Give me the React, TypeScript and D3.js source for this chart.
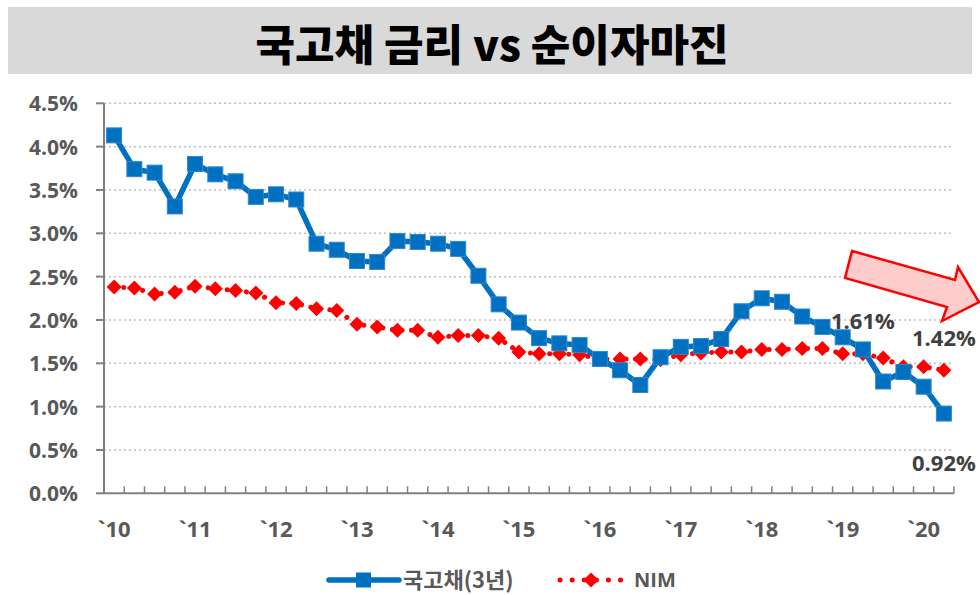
import React from "react";
import * as d3 from "d3";

const quarters: string[] = [];
for (let y = 2010; y <= 2020; y++) for (let q = 1; q <= 4; q++) quarters.push(`${y}Q${q}`);
const categories = quarters.slice(0, 42);

const yearLabels = ["`10", "`11", "`12", "`13", "`14", "`15", "`16", "`17", "`18", "`19", "`20"];

const bond3y = [4.13, 3.74, 3.70, 3.31, 3.80, 3.68, 3.60, 3.42, 3.45, 3.39, 2.88, 2.81, 2.68, 2.67, 2.91, 2.90, 2.88, 2.82, 2.51, 2.18, 1.97, 1.79, 1.73, 1.71, 1.55, 1.42, 1.25, 1.57, 1.69, 1.70, 1.78, 2.10, 2.25, 2.21, 2.04, 1.92, 1.80, 1.66, 1.29, 1.40, 1.23, 0.92];

const nim = [2.38, 2.37, 2.30, 2.32, 2.39, 2.36, 2.34, 2.31, 2.20, 2.19, 2.13, 2.11, 1.95, 1.92, 1.88, 1.88, 1.80, 1.82, 1.82, 1.79, 1.63, 1.61, 1.61, 1.60, 1.55, 1.55, 1.55, 1.54, 1.60, 1.62, 1.63, 1.63, 1.66, 1.66, 1.67, 1.67, 1.61, 1.61, 1.56, 1.46, 1.46, 1.42];

const yTicks = [0, 0.5, 1, 1.5, 2, 2.5, 3, 3.5, 4, 4.5];

const title = "국고채 금리 vs 순이자마진";
const seriesNames = ["국고채(3년)", "NIM"];

const BLUE = "#0070C0";
const RED = "#FF0000";
const FONT = "'Open Sans', 'Noto Sans CJK KR', sans-serif";

export default function App() {
  const W = 980, H = 595;
  const left = 104, right = 954, top = 103.3, bottom = 493.3;
  const x = d3.scaleBand<string>().domain(categories).range([left, right]);
  const y = d3.scaleLinear().domain([0, 4.5]).range([bottom, top]);
  const cx = (i: number) => (x(categories[i]) as number) + x.bandwidth() / 2;

  const line = d3.line<number>().x((_, i) => cx(i)).y((d) => y(d));

  const boundaries = d3.range(categories.length + 1).map((i) => left + i * x.bandwidth());

  const diamond = (px: number, py: number, r: number) =>
    `M${px},${py - r}L${px + r},${py}L${px},${py + r}L${px - r},${py}Z`;

  const nimLabelIdx = 37;
  const lastIdx = categories.length - 1;
  const legY = 578;

  return (
    <svg width={W} height={H} style={{ position: "absolute", left: 0, top: 0, background: "#fff" }} fontFamily={FONT}>
      <rect x={8} y={7} width={964} height={67} fill="#D9D9D9" />
      <text x={492} y={42} textAnchor="middle" dominantBaseline="central" fontSize={43} fontWeight={900} fill="#000" fontFamily="'Noto Sans CJK KR', sans-serif">
        {title}
      </text>

      {/* gridlines */}
      {yTicks.filter((t) => t > 0).map((t) => (
        <line key={t} x1={left} x2={right} y1={y(t)} y2={y(t)} stroke="#BFBFBF" strokeWidth={1.5} strokeDasharray="2 3" />
      ))}

      {/* y axis */}
      <line x1={left} x2={left} y1={top} y2={bottom} stroke="#808080" strokeWidth={2} />
      {yTicks.map((t) => (
        <g key={t}>
          <line x1={96} x2={left} y1={y(t)} y2={y(t)} stroke="#808080" strokeWidth={2} />
          <text x={78} y={y(t)} textAnchor="end" dominantBaseline="central" fontSize={21} fontWeight={700} fill="#595959">
            {t.toFixed(1)}%
          </text>
        </g>
      ))}

      {/* x axis */}
      <line x1={left} x2={right} y1={bottom} y2={bottom} stroke="#808080" strokeWidth={2} />
      {boundaries.map((b, i) => (
        <line key={i} x1={b} x2={b} y1={bottom - 7} y2={bottom} stroke="#808080" strokeWidth={1.5} />
      ))}
      {yearLabels.map((lab, k) => (
        <text key={lab} x={cx(k * 4)} y={528} textAnchor="middle" dominantBaseline="central" fontSize={22} fontWeight={700} fill="#595959">
          {lab}
        </text>
      ))}

      {/* NIM */}
      <path d={line(nim) as string} fill="none" stroke={RED} strokeWidth={5} strokeLinecap="round" strokeDasharray="0.1 9.5" />
      {nim.map((v, i) => (
        <path key={i} d={diamond(cx(i), y(v), 7.5)} fill={RED} />
      ))}

      {/* bond */}
      <path d={line(bond3y) as string} fill="none" stroke={BLUE} strokeWidth={5.5} strokeLinejoin="round" />
      {bond3y.map((v, i) => (
        <rect key={i} x={cx(i) - 7.5} y={y(v) - 7.5} width={15} height={15} fill={BLUE} stroke="#2F86CF" strokeWidth={1} />
      ))}

      {/* arrow annotation */}
      <path d="M852,251L955,280L958,267L979,302L942,321L947,307L845,278Z" fill="#FFCCCC" stroke={RED} strokeWidth={2.5} strokeLinejoin="miter" />

      {/* data labels */}
      <text x={cx(nimLabelIdx)} y={320} textAnchor="middle" dominantBaseline="central" fontSize={22} fontWeight={700} fill="#404040">
        {nim[nimLabelIdx].toFixed(2)}%
      </text>
      <text x={cx(lastIdx)} y={337} textAnchor="middle" dominantBaseline="central" fontSize={22} fontWeight={700} fill="#404040">
        {nim[lastIdx].toFixed(2)}%
      </text>
      <text x={cx(lastIdx)} y={462} textAnchor="middle" dominantBaseline="central" fontSize={22} fontWeight={700} fill="#404040">
        {bond3y[lastIdx].toFixed(2)}%
      </text>

      {/* legend */}
      <line x1={329} x2={399} y1={legY + 2} y2={legY + 2} stroke={BLUE} strokeWidth={5.5} strokeLinecap="round" />
      <rect x={356} y={legY + 2 - 7.5} width={15} height={15} fill={BLUE} />
      <text x={403} y={legY} dominantBaseline="central" fontSize={22} fontWeight={700} fill="#595959" fontFamily="'Noto Sans CJK KR', sans-serif">
        {seriesNames[0]}
      </text>
      <line x1={560} x2={622} y1={legY + 2} y2={legY + 2} stroke={RED} strokeWidth={5} strokeLinecap="round" strokeDasharray="0.1 12" />
      <path d={diamond(591, legY + 2, 7.5)} fill={RED} />
      <text x={634} y={legY + 1} dominantBaseline="central" fontSize={20} fontWeight={700} fill="#595959">
        {seriesNames[1]}
      </text>
    </svg>
  );
}
